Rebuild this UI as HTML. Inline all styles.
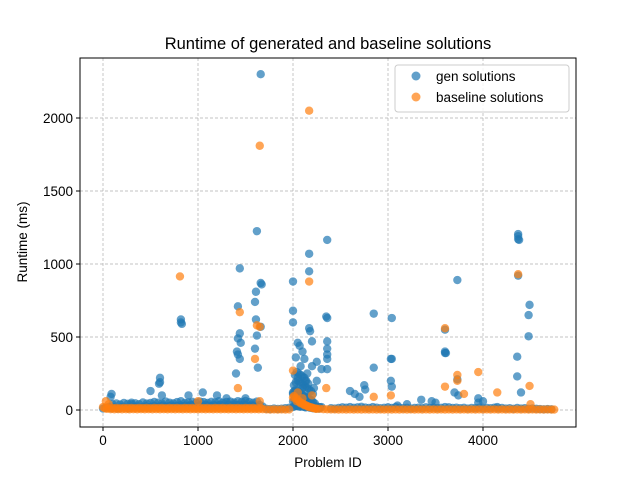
<!DOCTYPE html>
<html><head><meta charset="utf-8"><style>
body{margin:0;background:#fff}
svg{display:block;font-family:"Liberation Sans","DejaVu Sans",sans-serif}
</style></head><body>
<svg id="chart" width="640" height="480" viewBox="0 0 640 480" xmlns="http://www.w3.org/2000/svg">
<rect width="640" height="480" fill="#fff"/>
<text x="328" y="49" text-anchor="middle" font-size="16.5">Runtime of generated and baseline solutions</text>
<g id="grid"></g>
<g id="marks"></g>
<rect x="80" y="58" width="496" height="369" fill="none" stroke="#000" stroke-width="1"/>
<g id="ticks"></g>
<text x="328" y="467" text-anchor="middle" font-size="13.5">Problem ID</text>
<text transform="translate(27,242) rotate(-90)" text-anchor="middle" font-size="13.5">Runtime (ms)</text>
<g>
<rect x="395" y="65" width="174" height="47" rx="3" fill="#fff" fill-opacity="0.8" stroke="#ccc"/>
<circle cx="416" cy="76" r="4.5" fill="#1f77b4" fill-opacity="0.7"/>
<text x="436" y="81" font-size="13.5">gen solutions</text>
<circle cx="416" cy="97" r="4.5" fill="#ff7f0e" fill-opacity="0.7"/>
<text x="436" y="102" font-size="13.5">baseline solutions</text>
</g>
</svg>
<script>
const xTicks=[0,1000,2000,3000,4000];
const yTicks=[0,500,1000,1500,2000];
const genX=[1660,1620,1440,1420,1610,1600,1660,1670,820,820,830,1610,1440,1420,1450,1410,1420,1440,1400,1620,1630,1660,1600,2000,2000,2000,2170,2170,2360,2170,2180,2350,2360,2360,2360,2360,2360,2360,2050,2070,2100,2030,2200,2200,2150,2250,2050,2100,2000,2300,2250,2120,2080,2130,2220,2850,3040,3030,3040,2850,3030,3040,2750,2760,3600,3600,3610,3600,3730,3730,3700,3740,4370,4370,4370,4380,4370,4490,4480,4480,4360,4360,4400,3950,3500,3950,4000,600,600,590,500,620,1050,1200,2600,2650,2700,90,80,300,900,1300,1500,3350,3460,3200,3100,4150];
const genY=[2300,1225,970,710,810,740,870,860,620,600,590,620,525,490,460,400,380,350,250,510,290,570,420,880,680,600,1070,950,1165,560,540,640,630,470,420,380,350,280,460,440,400,360,470,300,250,200,220,150,120,280,330,350,300,200,150,660,630,350,350,290,200,160,170,140,400,390,390,550,890,210,120,100,1205,1190,1170,1165,920,720,650,505,365,230,120,50,50,80,60,220,190,180,130,100,120,100,130,110,90,110,90,40,100,80,80,70,60,40,30,20];
const genBandX=[0,30,60,90,120,150,180,210,240,270,300,330,360,390,420,450,480,510,540,570,600,630,660,690,720,750,780,810,840,870,900,930,960,990,1020,1050,1080,1110,1140,1170,1200,1230,1260,1290,1320,1350,1380,1410,1440,1470,1500,1530,1560,1590,1620,1650,1680,
100,140,180,220,260,300,340,380,420,460,500,540,580,620,660,700,740,780,820,860,900,940,980,1020,1060,1100,1140,1180,1220,1260,1300,1340,1380,1420,1460,1500,1540,1580,1620,
1720,1760,1800,1840,1880,1920,1960,2400,2440,2480,2520,2560,2600,2640,2680,2720,2760,2800,2840,2880,2920,2960,3000,3040,3080,3120,3160,3200,3240,3280,3320,3360,3400,3440,3480,3520,3560,3600,3640,3680,3720,3760,3800,3840,3880,3920,3960,4000,4040,4080,4120,4160,4200,4240,4280,4320,4360,4400,4440,4480,4520,4560,4600,4640,4680,4720,
2000,2015,2030,2045,2060,2075,2090,2105,2120,2135,2150,2165,2180,2195,2210,2225,2240,2255,2270,2285,2300,
2000,2015,2030,2045,2060,2075,2090,2105,2120,2135,2150,2165,2180,2195,2210,2225,2240,2260,2280,
2000,2015,2030,2045,2060,2075,2090,2105,2120,2135,2150,2165,2180,2195,2210,2230,
2010,2030,2050,2070,2090,2110,2130,2150,2170,2190,2210,
2020,2040,2060,2080,2100,2120,2140,2160];
const genBandY=[10,15,20,12,18,10,14,22,16,12,20,18,24,15,20,25,18,22,28,20,25,30,22,26,30,24,28,32,26,30,28,34,30,26,32,28,35,30,27,33,29,36,31,28,34,30,38,33,36,30,34,28,32,30,26,35,24,
40,45,38,48,42,50,46,40,52,44,48,55,50,45,58,50,46,54,60,48,52,56,50,58,54,48,56,52,60,50,55,58,52,60,56,62,54,50,58,
8,6,10,7,9,12,15,12,10,14,18,16,20,15,18,22,17,14,20,16,12,15,18,14,20,16,12,15,10,14,16,12,18,14,16,12,15,20,18,14,16,12,15,10,14,12,16,10,14,12,16,10,14,10,12,8,14,10,12,8,10,8,6,5,6,5,
20,25,30,28,25,22,26,24,20,18,22,20,15,18,12,15,10,12,10,14,20,
60,70,80,75,70,65,60,55,60,50,45,40,42,35,30,28,25,22,20,
110,130,140,135,125,120,110,100,95,90,85,80,70,65,55,45,
170,190,200,190,180,170,160,150,140,130,110,
240,260,250,240,230,220,200,180];
const baseX=[2170,1650,810,4370,2170,1440,1620,1650,1600,2000,1420,2350,3600,3600,3730,3730,3950,3800,4150,4490,2200,2100,2050,1650,1000,30,60,4500,3030,2850];
const baseY=[2050,1810,915,930,880,670,580,570,350,270,150,150,560,160,240,200,260,110,120,165,100,80,120,60,60,60,40,40,100,90];
const baseBandX=[0,40,80,120,160,200,240,280,320,360,400,440,480,520,560,600,640,680,720,760,800,840,880,920,960,1000,1040,1080,1120,1160,1200,1240,1280,1320,1360,1400,1440,1480,1520,1560,1600,1640,1680,1720,1760,1800,1840,1880,1920,1960,2000,2040,2080,2120,2160,2200,2240,2280,2320,2360,2400,2440,2480,2520,2560,2600,2640,2680,2720,2760,2800,2840,2880,2920,2960,3000,3040,3080,3120,3160,3200,3240,3280,3320,3360,3400,3440,3480,3520,3560,3600,3640,3680,3720,3760,3800,3840,3880,3920,3960,4000,4040,4080,4120,4160,4200,4240,4280,4320,4360,4400,4440,4480,4520,4560,4600,4640,4680,4720,4750,
20,60,100,140,180,220,260,300,340,380,420,460,500,540,580,620,660,700,740,780,820,860,900,940,980,1020,1060,1100,1140,1180,1220,1260,1300,1340,1380,1420,1460,1500,1540,1580,1620,1660,
2010,2030,2050,2070,2090,2110,2130,2150,2170,2190,2210,2230,2250];
const baseBandY=[20,8,6,5,6,5,6,5,6,5,6,5,6,5,6,5,6,5,6,5,6,5,6,5,6,5,6,5,6,5,6,5,6,5,6,5,6,5,6,5,6,5,6,4,3,4,3,4,3,4,85,60,45,32,22,15,10,8,6,5,4,4,3,4,3,4,3,4,3,4,3,4,3,4,3,4,3,4,3,4,3,4,3,4,3,4,3,4,3,4,3,4,3,4,3,4,3,4,3,4,3,4,3,4,3,4,3,4,3,4,3,4,3,4,3,4,3,4,3,3,
12,14,13,14,12,14,13,14,12,14,13,14,12,14,13,14,12,14,13,14,12,14,13,14,12,14,13,14,12,14,13,14,12,14,13,14,12,14,13,14,12,14,
95,80,70,55,48,40,34,28,22,18,14,10,8];
const X0=80,X1=576,Y0=58,Y1=427;
const xs=v=>103+v*0.095;
const ys=v=>410-v*0.146;
const NS="http://www.w3.org/2000/svg";
function mk(tag,attrs,parent){const e=document.createElementNS(NS,tag);for(const k in attrs)e.setAttribute(k,attrs[k]);parent.appendChild(e);return e;}
const grid=document.getElementById('grid'),ticks=document.getElementById('ticks'),marks=document.getElementById('marks');
xTicks.forEach(t=>{const x=xs(t);
 const g=mk('line',{x1:x,x2:x,y1:Y0,y2:Y1,stroke:'#b0b0b0','stroke-width':0.7,'stroke-dasharray':'3,2'},grid);
 
 
 const tk=mk('line',{x1:x,x2:x,y1:Y1,y2:Y1+4,stroke:'#000'},ticks);
 
 
 const tx=mk('text',{x:x,y:Y1+18,'text-anchor':'middle','font-size':'13.5'},ticks);tx.textContent=t;
 
 
});
yTicks.forEach(t=>{const y=ys(t);
 const g=mk('line',{x1:X0,x2:X1,y1:y,y2:y,stroke:'#b0b0b0','stroke-width':0.7,'stroke-dasharray':'3,2'},grid);
 
 
 const tk=mk('line',{x1:X0-4,x2:X0,y1:y,y2:y,stroke:'#000'},ticks);
 
 
 const tx=mk('text',{x:X0-7,y:y+5,'text-anchor':'end','font-size':'13.5'},ticks);tx.textContent=t;
 
 
});
function pts(xa,ya,color){xa.forEach((v,i)=>{if(ya[i]===undefined)return;const c=mk('circle',{cx:xs(v),cy:ys(ya[i]),r:4.2,fill:color,'fill-opacity':0.7},marks);
 
 });}
pts(genBandX,genBandY,'#1f77b4');
pts(genX,genY,'#1f77b4');
pts(baseBandX,baseBandY,'#ff7f0e');
pts(baseX,baseY,'#ff7f0e');
</script>
</body></html>
